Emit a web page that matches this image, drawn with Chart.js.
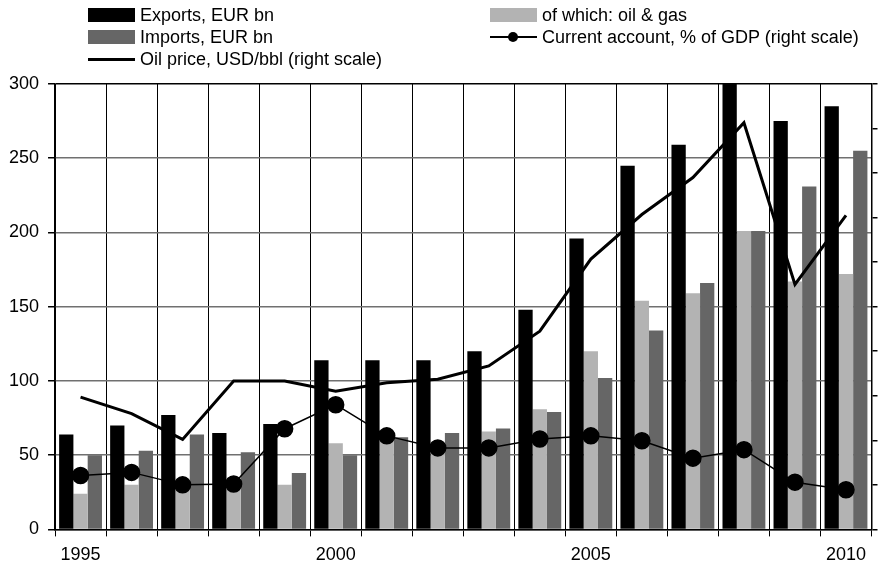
<!DOCTYPE html>
<html>
<head>
<meta charset="utf-8">
<script src="https://cdn.jsdelivr.net/npm/chart.js@4.4.1/dist/chart.umd.min.js"></script>
<style>
  body { margin: 0; background: #fff; font-family: "Liberation Sans", Arial, sans-serif; overflow: hidden; }
  #wrap { position: relative; width: 881px; height: 569px; overflow: hidden; }
  #chart { position: absolute; left: 0; top: 0; }
  .leg { position: absolute; font-size: 18px; line-height: 20px; color: #000; white-space: nowrap; }
  .sw { position: absolute; left: -52px; top: 3px; width: 47px; height: 14px; }
  .ln { position: absolute; left: -52px; top: 9px; width: 47px; height: 3px; background: #000; }
  .ln2 { position: absolute; left: -52px; top: 9px; width: 47px; height: 2px; background: #000; }
  .dot { position: absolute; left: -34px; top: 5px; width: 10px; height: 10px; border-radius: 50%; background: #000; }
</style>
</head>
<body>
<div id="wrap">
  <canvas id="chart" width="881" height="576"></canvas>
  <div class="leg" style="left:140px; top:5px;"><span class="sw" style="background:#000"></span>Exports, EUR bn</div>
  <div class="leg" style="left:140px; top:27px;"><span class="sw" style="background:#666"></span>Imports, EUR bn</div>
  <div class="leg" style="left:140px; top:49px;"><span class="ln"></span>Oil price, USD/bbl (right scale)</div>
  <div class="leg" style="left:542px; top:5px;"><span class="sw" style="background:#b3b3b3"></span>of which: oil &amp; gas</div>
  <div class="leg" style="left:542px; top:27px;"><span class="ln2"></span><span class="dot"></span>Current account, % of GDP (right scale)</div>
</div>
<script>
const years = ['1995', '1996', '1997', '1998', '1999', '2000', '2001', '2002', '2003', '2004', '2005', '2006', '2007', '2008', '2009', '2010'];
const shownYears = ['1995', '2000', '2005', '2010'];

// left scale, EUR bn
const exports = [64, 70, 77, 65, 71, 114, 114, 114, 120, 148, 196, 245, 259, 300, 275, 285];
const oilGas = [24, 30, 28, 27, 30, 58, 60, 52, 66, 81, 120, 154, 159, 201, 167, 172];
const imports = [50, 53, 64, 52, 38, 50, 62, 65, 68, 79, 102, 134, 166, 201, 231, 255];

// right scale (unlabelled, 0-100)
const oilPrice = [29.7, 26, 20.2, 33.3, 33.3, 31, 32.9, 33.7, 36.7, 44.5, 60.7, 70.7, 79, 91.3, 55, 70.5];
const currentAccount = [12.1, 12.8, 10, 10.2, 22.6, 28, 21, 18.3, 18.3, 20.3, 21, 19.9, 16, 17.9, 10.6, 8.9];

const font = { family: '"Liberation Sans", Arial, sans-serif', size: 18 };

new Chart(document.getElementById('chart'), {
  type: 'bar',
  data: {
    labels: years,
    datasets: [
      {
        type: 'line',
        label: 'Oil price, USD/bbl (right scale)',
        data: oilPrice,
        yAxisID: 'y2',
        borderColor: '#000',
        borderWidth: 3,
        pointRadius: 0,
        tension: 0,
        order: 0
      },
      {
        type: 'line',
        label: 'Current account, % of GDP (right scale)',
        data: currentAccount,
        yAxisID: 'y2',
        borderColor: '#000',
        borderWidth: 1.5,
        pointRadius: 8,
        pointBackgroundColor: '#000',
        pointBorderColor: '#000',
        tension: 0,
        order: 0
      },
      {
        label: 'Exports, EUR bn',
        data: exports,
        backgroundColor: '#000',
        categoryPercentage: 0.84,
        barPercentage: 1,
        order: 1
      },
      {
        label: 'of which: oil & gas',
        data: oilGas,
        backgroundColor: '#b3b3b3',
        categoryPercentage: 0.84,
        barPercentage: 1,
        order: 1
      },
      {
        label: 'Imports, EUR bn',
        data: imports,
        backgroundColor: '#666666',
        categoryPercentage: 0.84,
        barPercentage: 1,
        order: 1
      }
    ]
  },
  options: {
    responsive: false,
    animation: false,
    devicePixelRatio: 1,
    layout: { padding: { top: 84, left: 0, right: 0, bottom: 2 } },
    plugins: {
      legend: { display: false },
      tooltip: { enabled: false }
    },
    scales: {
      x: {
        grid: { color: '#000', lineWidth: 1, tickLength: 7, offset: true },
        border: { color: '#000', width: 1.5 },
        ticks: {
          color: '#000',
          font: font,
          padding: 8,
          autoSkip: false,
          maxRotation: 0,
          callback: function (v, i) {
            return shownYears.includes(years[i]) ? years[i] : '';
          }
        }
      },
      y: {
        position: 'left',
        min: 0,
        max: 300,
        grid: {
          color: function (ctx) { return ctx.tick.value == 300 ? '#000' : '#707070'; },
          lineWidth: 1.5,
          tickLength: 7,
          tickColor: '#000'
        },
        border: { color: '#000', width: 1.5 },
        ticks: { stepSize: 50, color: '#000', font: font, padding: 9 }
      },
      y2: {
        position: 'right',
        min: 0,
        max: 100,
        grid: { drawOnChartArea: false, color: '#000', tickLength: 6, lineWidth: 1.5 },
        border: { color: '#000', width: 1.5 },
        ticks: { stepSize: 10, display: false }
      }
    }
  }
});
</script>
</body>
</html>
